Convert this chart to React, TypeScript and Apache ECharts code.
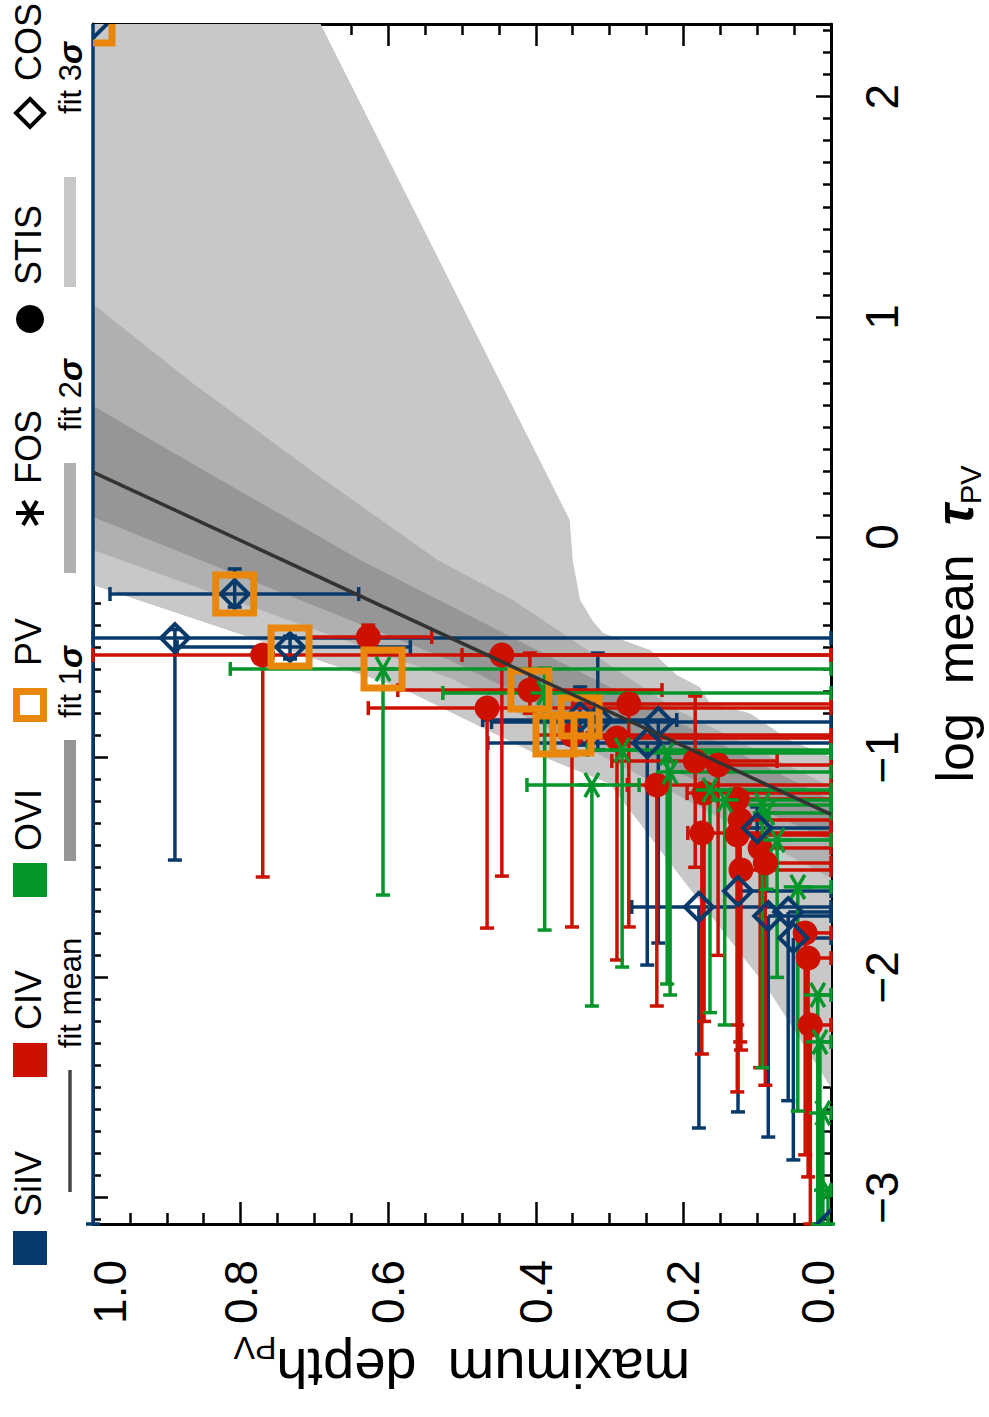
import React, { useEffect, useRef } from "react";
import * as echarts from "echarts";

const FONT = "'Liberation Sans', Arial, Helvetica, sans-serif";
const NAVY = "#073a6b";
const RED = "#cc1100";
const GREEN = "#05962b";
const ORANGE = "#e8870b";
const GRAY1 = "#969696";
const GRAY2 = "#b0b0b0";
const GRAY3 = "#c8c8c8";

// axis ranges and ticks
const TAU_MIN = -3.12;
const TAU_MAX = 2.33;
const TAU_TICKS = [-3, -2, -1, 0, 1, 2];
const TAU_MINOR: number[] = [];
for (let k = -31; k <= 23; k++) if (k % 10 !== 0) TAU_MINOR.push(k / 10);
const DEPTH_MIN = 0;
const DEPTH_MAX = 1;
const DEPTH_STEP = 0.2;

// rows: [log tau, depth, tauLo, tauHi, depthLo, depthHi]
const SIIV_COS = [
  [2.33, 1.0, -3.12, null, null, null],
  [-0.259, 0.808, -0.318, -0.145, 0.64, 0.977],
  [-0.459, 0.889, -1.467, -0.42, 0.0, 1.0],
  [-0.5, 0.733, -0.554, -0.45, 0.57, 0.886],
  [-0.817, 0.34, -0.945, -0.681, null, null],
  [-0.831, 0.316, -0.967, -0.527, 0.209, 0.472],
  [-0.84, 0.234, -1.844, null, 0.0, 0.46],
  [-0.936, 0.249, -1.944, null, 0.0, 0.465],
  [-1.322, 0.1, -1.42, -1.226, 0.0, 0.13],
  [-1.608, 0.126, -2.611, null, 0.0, null],
  [-1.68, 0.179, -2.684, null, 0.0, 0.27],
  [-1.721, 0.085, -2.725, null, 0.0, null],
  [-1.703, 0.058, -2.56, null, 0.0, null],
  [-1.821, 0.051, -2.829, null, 0.0, null],
  [-3.12, 0.0, null, null, null, null],
];

const CIV_STIS = [
  [-0.454, 0.627, -0.48, -0.4, 0.541, 0.706],
  [-0.536, 0.77, -1.544, null, 0.0, 1.0],
  [-0.536, 0.446, -1.54, null, 0.0, 0.5],
  [-0.695, 0.408, -0.8, -0.527, 0.229, 0.587],
  [-0.777, 0.466, -1.776, null, 0.0, 0.627],
  [-0.758, 0.274, -1.771, null, 0.0, 0.35],
  [-0.913, 0.29, -1.921, null, 0.0, 0.33],
  [-0.899, 0.351, -1.771, null, 0.0, 0.4],
  [-1.017, 0.184, -1.5, -0.722, 0.073, 0.297],
  [-1.035, 0.153, -1.9, null, 0.0, null],
  [-1.126, 0.236, -2.13, null, 0.0, 0.276],
  [-1.163, 0.172, -2.2, null, 0.0, 0.195],
  [-1.19, 0.127, -2.216, null, 0.0, null],
  [-1.285, 0.123, -2.293, null, 0.0, null],
  [-1.344, 0.175, -2.348, null, 0.0, 0.194],
  [-1.353, 0.127, -2.52, null, 0.0, null],
  [-1.412, 0.096, -2.41, null, 0.0, null],
  [-1.48, 0.089, -2.49, null, 0.0, null],
  [-1.512, 0.122, -2.33, null, 0.0, null],
  [-1.798, 0.035, -2.806, null, 0.0, null],
  [-1.912, 0.031, -2.906, null, 0.0, null],
  [-2.216, 0.028, -3.12, null, 0.0, null],
];

const OVI_FOS = [
  [-0.599, 0.607, -1.626, null, 0.0, 0.814],
  [-0.708, 0.388, -1.785, -0.595, 0.0, 0.526],
  [-1.126, 0.324, -2.13, null, 0.26, 0.412],
  [-0.967, 0.283, -1.953, null, 0.0, 0.33],
  [-0.981, 0.222, -2.03, null, 0.0, null],
  [-1.067, 0.218, -2.08, null, 0.0, null],
  [-1.149, 0.164, -2.16, null, 0.0, null],
  [-1.194, 0.144, -2.216, null, 0.0, null],
  [-1.217, 0.093, -2.41, null, 0.0, null],
  [-1.253, 0.087, -1.6, null, 0.0, null],
  [-1.376, 0.073, -2.0, null, 0.0, null],
  [-1.589, 0.045, -2.607, null, 0.0, null],
  [-2.08, 0.018, -3.12, null, 0.0, null],
  [-2.293, 0.015, -3.12, null, 0.0, null],
  [-2.616, 0.011, -3.12, null, 0.0, null],
  [-2.966, 0.004, -3.12, null, 0.0, null],
];

// PV points: [log tau, depth]
const PV_POINTS = [
  [2.33, 1.0],
  [-0.259, 0.808],
  [-0.5, 0.733],
  [-0.599, 0.607],
  [-0.695, 0.408],
  [-0.817, 0.34],
  [-0.899, 0.374],
  [-0.895, 0.351],
];

// fit mean and confidence bands, vertices as [log tau, depth]
const FIT_MEAN = [
  [0.295, 1.0],
  [-1.26, 0.0],
];
const BAND_3SIGMA = [
  [2.45, 1.05], [2.45, 0.71], [2.325, 0.691], [0.077, 0.354], [-0.104, 0.35],
  [-0.286, 0.34], [-0.38, 0.323], [-0.436, 0.309], [-0.513, 0.245], [-0.627, 0.209],
  [-0.681, 0.178], [-0.754, 0.164], [-0.8, 0.11], [-0.922, 0.056], [-1.0, 0.0],
  [-1.02, -0.05], [-2.6, -0.05], [-2.5, 0.0], [-2.05, 0.086], [-1.56, 0.2],
  [-1.12, 0.3], [-0.985, 0.4], [-0.685, 0.583], [-0.218, 1.0], [-0.19, 1.05],
];
const BAND_2SIGMA = [
  [1.12, 1.05], [1.045, 0.995], [0.704, 0.867], [0.282, 0.696], [-0.104, 0.533],
  [-0.286, 0.431], [-0.786, 0.209], [-1.135, 0.0], [-1.16, -0.05], [-1.62, -0.05],
  [-1.55, 0.0], [-1.15, 0.22], [-0.64, 0.516], [-0.059, 1.0], [-0.03, 1.05],
];
const BAND_1SIGMA = [
  [0.66, 1.05], [0.59, 0.997], [0.386, 0.893], [-0.104, 0.638], [-1.194, 0.0],
  [-1.22, -0.05], [-1.44, -0.05], [-1.38, 0.0], [-1.05, 0.22], [-0.56, 0.516],
  [0.091, 1.0], [0.12, 1.05],
];

const BAR_W = 3.5;
const TICK_FONT = 46;

function lineEl(x1: number, y1: number, x2: number, y2: number, color: string, w: number) {
  return { type: "line", shape: { x1, y1, x2, y2 }, style: { stroke: color, lineWidth: w } };
}

function bandSeries(verts: number[][], fill: string) {
  return {
    type: "custom",
    coordinateSystem: "cartesian2d",
    clip: true,
    silent: true,
    data: [[0.5, 0]],
    encode: { x: 0, y: 1 },
    renderItem: (_p: any, api: any) => ({
      type: "polygon",
      shape: { points: verts.map((v) => api.coord([v[1], v[0]])) },
      style: { fill },
    }),
  };
}

function errorSeries(rows: any[][], color: string) {
  return {
    type: "custom",
    coordinateSystem: "cartesian2d",
    clip: false,
    silent: true,
    data: rows.map((r) => [r[1], r[0]]),
    encode: { x: 0, y: 1 },
    renderItem: (params: any, api: any) => {
      const [t, d, tLo, tHi, dLo, dHi] = rows[params.dataIndex];
      const ch: any[] = [];
      const CAP = 7;
      if (tLo != null || tHi != null) {
        const a = api.coord([d, tLo ?? t]);
        const b = api.coord([d, tHi ?? t]);
        ch.push(lineEl(a[0], a[1], b[0], b[1], color, BAR_W));
        if (tLo != null) ch.push(lineEl(a[0] - CAP, a[1], a[0] + CAP, a[1], color, BAR_W));
        if (tHi != null) ch.push(lineEl(b[0] - CAP, b[1], b[0] + CAP, b[1], color, BAR_W));
      }
      if (dLo != null || dHi != null) {
        const a = api.coord([dLo ?? d, t]);
        const b = api.coord([dHi ?? d, t]);
        ch.push(lineEl(a[0], a[1], b[0], b[1], color, BAR_W));
        if (dLo != null) ch.push(lineEl(a[0], a[1] - CAP, a[0], a[1] + CAP, color, BAR_W));
        if (dHi != null) ch.push(lineEl(b[0], b[1] - CAP, b[0], b[1] + CAP, color, BAR_W));
      }
      return { type: "group", children: ch };
    },
  };
}

function markerSeries(rows: any[][], kind: string, color: string) {
  return {
    type: "custom",
    coordinateSystem: "cartesian2d",
    clip: true,
    silent: true,
    data: rows.map((r) => [r[1], r[0]]),
    encode: { x: 0, y: 1 },
    renderItem: (params: any, api: any) => {
      const r = rows[params.dataIndex];
      const [x, y] = api.coord([r[1], r[0]]);
      if (kind === "circle") return { type: "circle", shape: { cx: x, cy: y, r: 12.5 }, style: { fill: color } };
      if (kind === "diamond")
        return {
          type: "polygon",
          shape: { points: [[x, y - 14], [x + 14, y], [x, y + 14], [x - 14, y]] },
          style: { fill: "none", stroke: color, lineWidth: 4 },
        };
      if (kind === "square")
        return {
          type: "rect",
          shape: { x: x - 19, y: y - 19, width: 38, height: 38 },
          style: { fill: "none", stroke: color, lineWidth: 7 },
        };
      const a = 14, dx = 7, dy = 12.1;
      return {
        type: "group",
        children: [
          lineEl(x - a, y, x + a, y, color, 3.5),
          lineEl(x - dx, y - dy, x + dx, y + dy, color, 3.5),
          lineEl(x - dx, y + dy, x + dx, y - dy, color, 3.5),
        ],
      };
    },
  };
}

const tickLine = { color: "#000", width: 2.5 };
const boxLine = { show: true, onZero: false, lineStyle: { color: "#000", width: 3 } };

const depthAxisBase = {
  type: "value",
  min: DEPTH_MIN,
  max: DEPTH_MAX,
  interval: DEPTH_STEP,
  inverse: true,
  axisLine: boxLine,
  axisTick: { show: true, inside: true, length: 22, lineStyle: tickLine },
  minorTick: { show: true, splitNumber: 4, length: 11, lineStyle: tickLine },
  splitLine: { show: false },
  minorSplitLine: { show: false },
};

const tauAxisBase = {
  type: "value",
  min: TAU_MIN,
  max: TAU_MAX,
  splitLine: { show: false },
};

function textEl(x: number, y: number, text: string, size: number, rich?: any) {
  return {
    type: "text",
    x,
    y,
    rotation: Math.PI / 2,
    style: {
      text,
      fontSize: size,
      fontFamily: FONT,
      fill: "#000",
      align: "center",
      verticalAlign: "middle",
      textAlign: "center",
      textVerticalAlign: "middle",
      rich,
    },
  };
}

const sigmaRich = {
  a: { fontSize: 31, fontFamily: FONT },
  g: { fontSize: 33, fontFamily: FONT, fontStyle: "italic", fontWeight: "bold" },
};

const legendElements: any[] = [
  { type: "rect", shape: { x: 13, y: 1231, width: 34, height: 34 }, style: { fill: NAVY } },
  textEl(28, 1184, "SiIV", 36),
  { type: "rect", shape: { x: 13, y: 1043, width: 34, height: 34 }, style: { fill: RED } },
  textEl(28, 1000, "CIV", 36),
  { type: "rect", shape: { x: 13, y: 863, width: 34, height: 34 }, style: { fill: GREEN } },
  textEl(28, 820, "OVI", 36),
  { type: "rect", shape: { x: 16.5, y: 691.5, width: 27, height: 27 }, style: { fill: "none", stroke: ORANGE, lineWidth: 7 } },
  textEl(28, 642, "PV", 36),
  { type: "line", shape: { x1: 16, y1: 513, x2: 44, y2: 513 }, style: { stroke: "#000", lineWidth: 4 } },
  { type: "line", shape: { x1: 23, y1: 500.9, x2: 37, y2: 525.1 }, style: { stroke: "#000", lineWidth: 4 } },
  { type: "line", shape: { x1: 23, y1: 525.1, x2: 37, y2: 500.9 }, style: { stroke: "#000", lineWidth: 4 } },
  textEl(28, 447, "FOS", 36),
  { type: "circle", shape: { cx: 30, cy: 319, r: 14 }, style: { fill: "#000" } },
  textEl(28, 245, "STIS", 36),
  { type: "polygon", shape: { points: [[30, 99], [44, 113], [30, 127], [16, 113]] }, style: { fill: "none", stroke: "#000", lineWidth: 4 } },
  textEl(28, 42, "COS", 36),
  { type: "line", shape: { x1: 70, y1: 1070, x2: 70, y2: 1192 }, style: { stroke: "#444", lineWidth: 3.5 } },
  textEl(70, 993, "fit mean", 31),
  { type: "rect", shape: { x: 64, y: 740, width: 12, height: 121 }, style: { fill: GRAY1 } },
  textEl(70, 682, "{a|fit 1}{g|σ}", 31, sigmaRich),
  { type: "rect", shape: { x: 64, y: 463, width: 12, height: 110 }, style: { fill: GRAY2 } },
  textEl(70, 395, "{a|fit 2}{g|σ}", 31, sigmaRich),
  { type: "rect", shape: { x: 64, y: 177, width: 12, height: 110 }, style: { fill: GRAY3 } },
  textEl(70, 78, "{a|fit 3}{g|σ}", 31, sigmaRich),
];

const option: any = {
  animation: false,
  backgroundColor: "#fff",
  textStyle: { fontFamily: FONT },
  grid: { left: 93, right: 158, top: 24, bottom: 193, containLabel: false, outerBoundsMode: "none" },
  xAxis: [
    {
      ...depthAxisBase,
      position: "bottom",
      axisLabel: {
        show: true,
        rotate: 90,
        margin: 36,
        fontSize: TICK_FONT,
        fontFamily: FONT,
        color: "#000",
        formatter: (v: number) =>
          v === 1 ? "{hi|1.0}" : v === 0 ? "{lo|0.0}" : "{m|" + v.toFixed(1) + "}",
        rich: {
          m: { fontSize: TICK_FONT, fontFamily: FONT, color: "#000" },
          hi: { fontSize: TICK_FONT, fontFamily: FONT, color: "#000", padding: [34, 0, 0, 0] },
          lo: { fontSize: TICK_FONT, fontFamily: FONT, color: "#000", padding: [0, 0, 26, 0] },
        },
      },
      name: "{a|maximum  depth}{s|PV}",
      nameLocation: "middle",
      nameRotate: 180,
      nameGap: 108,
      nameTextStyle: {
        fontFamily: FONT,
        color: "#000",
        rich: {
          a: { fontSize: 56, fontFamily: FONT, color: "#000", lineHeight: 72 },
          s: { fontSize: 32, fontFamily: FONT, color: "#000", lineHeight: 32, verticalAlign: "bottom" },
        },
      },
    },
    { ...depthAxisBase, position: "top", axisLabel: { show: false } },
  ],
  yAxis: [
    {
      ...tauAxisBase,
      position: "right",
      axisLine: boxLine,
      axisTick: { show: true, inside: true, length: 15, customValues: TAU_TICKS, lineStyle: tickLine },
      axisLabel: {
        show: true,
        customValues: TAU_TICKS,
        rotate: 90,
        margin: 28,
        fontSize: TICK_FONT,
        fontFamily: FONT,
        color: "#000",
        formatter: (v: number) => (v < 0 ? "\u2212" + Math.abs(v) : String(v)),
      },
      name: "{a|log  mean  }{t|τ}{s|PV}",
      nameLocation: "middle",
      nameRotate: 90,
      nameGap: 94,
      nameTextStyle: {
        fontFamily: FONT,
        color: "#000",
        rich: {
          a: { fontSize: 52, fontFamily: FONT, color: "#000", lineHeight: 60 },
          t: { fontSize: 52, fontFamily: FONT, color: "#000", fontStyle: "italic", fontWeight: "bold", lineHeight: 60 },
          s: { fontSize: 29, fontFamily: FONT, color: "#000", lineHeight: 29, verticalAlign: "bottom" },
        },
      },
    },
    {
      ...tauAxisBase,
      position: "right",
      axisLine: { show: false, onZero: false },
      axisTick: { show: true, inside: true, length: 8, customValues: TAU_MINOR, lineStyle: tickLine },
      axisLabel: { show: false },
    },
    {
      ...tauAxisBase,
      position: "left",
      axisLine: boxLine,
      axisTick: { show: true, inside: true, length: 15, customValues: TAU_TICKS, lineStyle: tickLine },
      axisLabel: { show: false },
    },
    {
      ...tauAxisBase,
      position: "left",
      axisLine: { show: false, onZero: false },
      axisTick: { show: true, inside: true, length: 8, customValues: TAU_MINOR, lineStyle: tickLine },
      axisLabel: { show: false },
    },
  ],
  graphic: { elements: legendElements },
  series: [
    bandSeries(BAND_3SIGMA, GRAY3),
    bandSeries(BAND_2SIGMA, GRAY2),
    bandSeries(BAND_1SIGMA, GRAY1),
    {
      type: "line",
      data: FIT_MEAN.map((p) => [p[1], p[0]]),
      symbol: "none",
      clip: true,
      silent: true,
      lineStyle: { color: "#333", width: 3.5 },
    },
    errorSeries(SIIV_COS, NAVY),
    errorSeries(CIV_STIS, RED),
    errorSeries(OVI_FOS, GREEN),
    markerSeries(CIV_STIS, "circle", RED),
    markerSeries(OVI_FOS, "asterisk", GREEN),
    markerSeries(SIIV_COS, "diamond", NAVY),
    markerSeries(PV_POINTS, "square", ORANGE),
  ],
};

export default function App() {
  const ref = useRef<HTMLDivElement>(null);
  useEffect(() => {
    document.body.style.margin = "0";
    const chart = echarts.init(ref.current as HTMLDivElement, null, { renderer: "svg" });
    chart.setOption(option);
    return () => chart.dispose();
  }, []);
  return <div ref={ref} style={{ width: 989, height: 1417 }} />;
}
